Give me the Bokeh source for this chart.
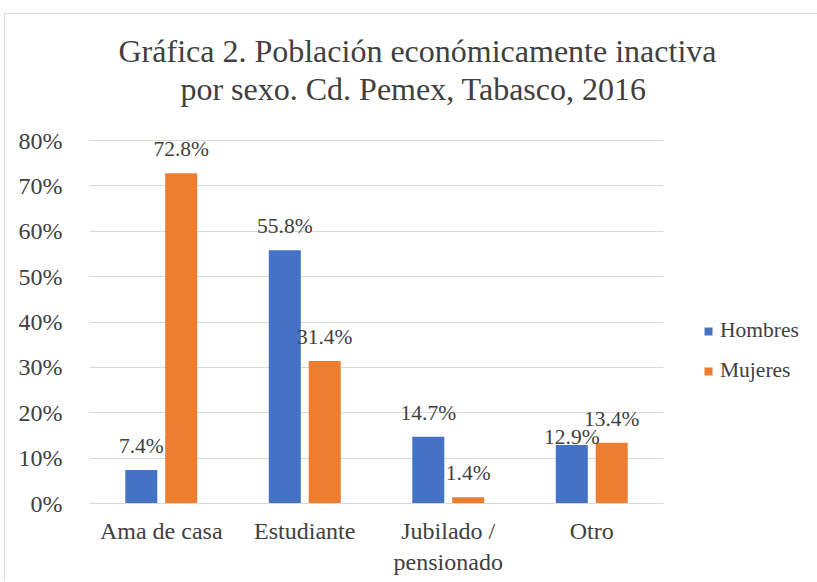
from bokeh.plotting import figure
from bokeh.models import (ColumnDataSource, FactorRange, Range1d, Label, Legend,
                          LegendItem, FixedTicker)
from bokeh.transform import dodge
from bokeh.core.properties import value
from bokeh.embed import file_html
from bokeh.resources import INLINE

# ---- data ----
categories = ["Ama de casa", "Estudiante", "Jubilado /\npensionado", "Otro"]
hombres = [7.4, 55.8, 14.7, 12.9]
mujeres = [72.8, 31.4, 1.4, 13.4]
series_names = ["Hombres", "Mujeres"]
y_ticks = [0, 10, 20, 30, 40, 50, 60, 70, 80]
y_tick_labels = ["0%", "10%", "20%", "30%", "40%", "50%", "60%", "70%", "80%"]
title_lines = ["Gráfica 2. Población económicamente inactiva",
               "por sexo.  Cd. Pemex, Tabasco, 2016"]

# ---- style ----
FONT = "Times New Roman"
TXT = "#404040"
BLUE = "#4472C4"
ORANGE = "#ED7D31"
GRID = "#d9d9d9"

PLOT_H = 363          # pixel height of the 0..80 % band
FRAME_H = 431         # frame extends upward to hold the second title line
Y_MAX = y_ticks[-1] * FRAME_H / PLOT_H

# label vertical offsets (px, negative = up)
h_label_dy = [-24, -24, -24, -8]
m_label_dy = [-24, -24, -24, -24]

src = ColumnDataSource(dict(
    cat=categories,
    hombres=hombres,
    mujeres=mujeres,
    hombres_lbl=[f"{v:.1f}%" for v in hombres],
    mujeres_lbl=[f"{v:.1f}%" for v in mujeres],
    hombres_dy=h_label_dy,
    mujeres_dy=m_label_dy,
))

p = figure(x_range=FactorRange(*categories), y_range=Range1d(0, Y_MAX),
           frame_width=574, frame_height=FRAME_H,
           min_border_left=84, min_border_top=58, min_border_right=142,
           min_border_bottom=77,
           output_backend="svg", toolbar_location=None,
           styles={"border-left": f"1px solid {GRID}",
                   "border-top": f"1px solid {GRID}",
                   "margin-left": "4px", "margin-top": "13px"})
p.x_range.range_padding = 0
p.outline_line_color = None
p.background_fill_color = "white"
p.border_fill_color = "white"

r_h = p.vbar(x=dodge("cat", -0.139, range=p.x_range), top="hombres", width=0.223,
             source=src, fill_color=BLUE, line_color=None)
r_m = p.vbar(x=dodge("cat", 0.139, range=p.x_range), top="mujeres", width=0.223,
             source=src, fill_color=ORANGE, line_color=None)

for field, off in (("hombres", -0.139), ("mujeres", 0.139)):
    p.text(x=dodge("cat", off, range=p.x_range), y=field, text=field + "_lbl",
           source=src, text_align="center", text_baseline="alphabetic",
           y_offset=field + "_dy", text_font=value(FONT),
           text_font_size="21.5px", text_color=TXT)

# axes
p.yaxis.ticker = FixedTicker(ticks=y_ticks)
p.yaxis.major_label_overrides = {t: l for t, l in zip(y_ticks, y_tick_labels)}
for ax in (p.xaxis[0], p.yaxis[0]):
    ax.axis_line_color = None
    ax.major_tick_line_color = None
    ax.minor_tick_line_color = None
    ax.major_label_text_font = FONT
    ax.major_label_text_font_size = "24px"
    ax.major_label_text_color = TXT
p.yaxis.major_label_standoff = 21
p.xaxis.major_label_standoff = 8
p.xaxis.axis_line_color = GRID

p.xgrid.grid_line_color = None
p.ygrid.grid_line_color = GRID
p.ygrid.grid_line_width = 1

# title: first line in the panel above, second line inside the frame's top
p.title.text = title_lines[0]
p.title.align = "left"
p.title.offset = 29
p.title.standoff = 8
p.title.text_font = FONT
p.title.text_font_size = "32px"
p.title.text_font_style = "normal"
p.title.text_color = TXT
p.add_layout(Label(x=328, y=415, x_units="screen", y_units="screen",
                   text=title_lines[1], text_align="center",
                   text_baseline="alphabetic", text_font=FONT,
                   text_font_size="32px", text_color=TXT))

legend = Legend(items=[LegendItem(label=series_names[0], renderers=[r_h]),
                       LegendItem(label=series_names[1], renderers=[r_m])],
                location=(40, 120), orientation="vertical",
                glyph_width=10, glyph_height=10, label_standoff=7,
                label_text_font=FONT, label_text_font_size="21.5px",
                label_text_color=TXT, label_height=24, spacing=15,
                padding=0, margin=0, border_line_color=None,
                background_fill_alpha=0)
p.add_layout(legend, "right")

open("out.html", "w").write(file_html(p, INLINE))
